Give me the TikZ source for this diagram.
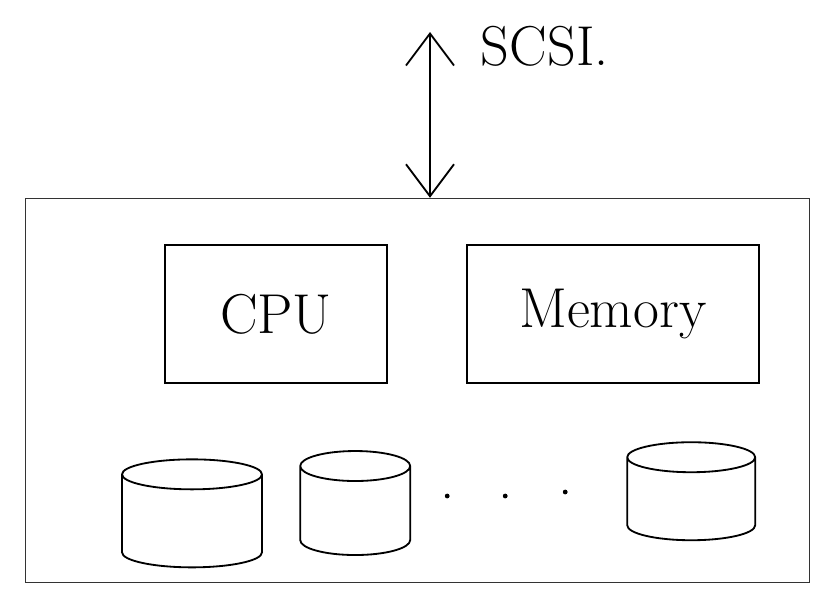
\documentclass[tikz,border=0pt]{standalone}
\usetikzlibrary{positioning,shapes.geometric,arrows.meta}

\begin{document}
\begin{tikzpicture}[node distance=19.5mm,
 outernode/.style={rectangle, draw=black!80, line width=0.9pt, minimum width=196mm, minimum height=96mm},
 boxnode/.style={rectangle, draw=black, line width=1.3pt, minimum height=34.5mm, font=\fontsize{40}{44}\selectfont},
 disknode/.style={cylinder, shape border rotate=90, aspect=3.2, draw=black, line width=1.3pt, minimum width=31mm, minimum height=26mm},
 busarrow/.style={{Straight Barb[length=8mm,width=12mm]}-{Straight Barb[length=8mm,width=12mm]}, line width=1.3pt}, ]
    \useasboundingbox (0,0) rectangle (20.35,-14.95);

                \node[outernode] (sys) at (10.44,-9.76) {};
                \node[boxnode, minimum width=55.5mm] (cpu) at (6.9,-7.85) {CPU};
                \node[boxnode, minimum width=73mm] (mem) [right=of cpu] {Memory};

                \node[disknode, minimum width=35mm, minimum height=27mm] (d1) at (4.8,-13.1) {};
                \node[disknode, minimum width=27.5mm] (d2) at (8.88,-12.85) {};
                \node[disknode, minimum width=32mm, minimum height=24.5mm] (d3) at (17.28,-12.55) {};

                \foreach \x/\y [count=\i] in {11.18/-12.4, 12.63/-12.4, 14.13/-12.3}
                    \fill (\x,\y) circle (0.6mm) coordinate (dot\i);

                \coordinate (bus) at (10.75,-0.8);
                \node[anchor=west, font=\fontsize{40}{44}\selectfont] (scsi) at (11.9,-1.15) {SCSI.};

                 \draw[busarrow] (bus) -- (bus |- sys.north);
\end{tikzpicture}
\end{document}
